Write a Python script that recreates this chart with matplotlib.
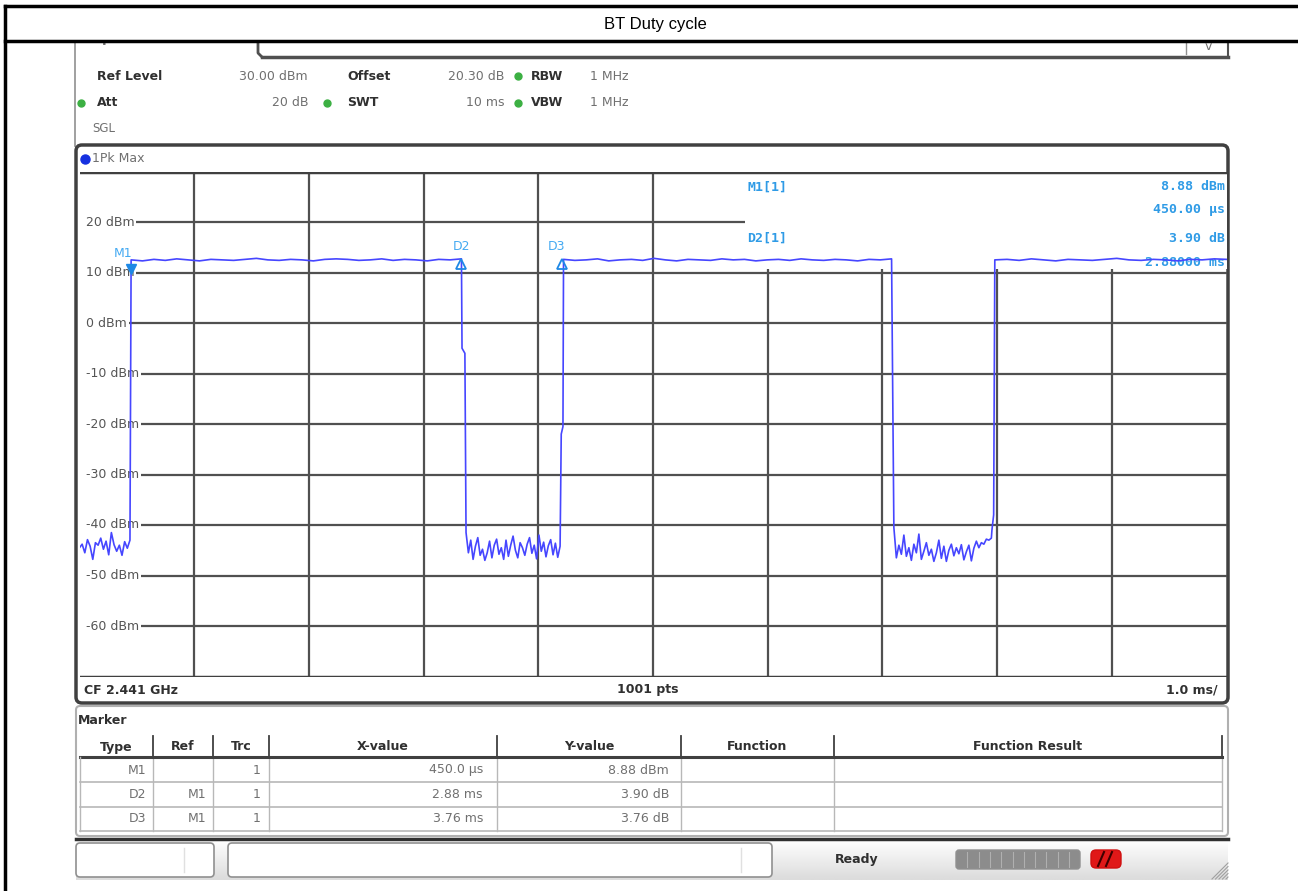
import matplotlib
matplotlib.use('Agg')
import matplotlib.pyplot as plt
from matplotlib.patches import FancyBboxPatch, Rectangle
import numpy as np

# trace: (start ms, end ms, levels in dBm)
low1_dbm = [-44.5, -43.8, -45.5, -42.9, -44.2, -46.8, -43.5, -44.0, -42.6,
            -44.8, -43.2, -45.9, -41.5, -43.9, -45.2, -44.0, -46.0, -43.3,
            -44.6, -43.0]
high1_dbm = [12.5, 12.3, 12.6, 12.4, 12.7, 12.5, 12.3, 12.6, 12.5, 12.4,
             12.6, 12.8, 12.5, 12.4, 12.6, 12.5, 12.3, 12.6, 12.7, 12.6,
             12.4, 12.5, 12.7, 12.4, 12.6, 12.5, 12.3, 12.6, 12.5, 12.7]
low2_dbm = [-41.5, -45.5, -43.0, -46.8, -44.2, -42.5, -46.0, -44.8, -47.0,
            -45.5, -43.2, -46.5, -44.0, -42.8, -45.8, -44.5, -46.8, -43.0,
            -46.2, -44.0, -42.2, -45.0, -46.5, -43.5, -44.5, -46.0, -43.8,
            -42.5, -45.6, -44.0, -46.7, -42.0, -45.2, -43.4, -46.3, -44.1,
            -42.9, -45.9, -43.6, -46.4, -44.2]
high2_dbm = [12.6, 12.4, 12.5, 12.7, 12.3, 12.5, 12.6, 12.4, 12.8, 12.5,
             12.3, 12.6, 12.5, 12.4, 12.7, 12.5, 12.6, 12.3, 12.5, 12.6,
             12.4, 12.7, 12.5, 12.4, 12.6, 12.5, 12.3, 12.6, 12.5, 12.7]
low3_dbm = [-40.5, -46.5, -44.0, -45.8, -42.0, -46.2, -44.5, -47.0, -43.8,
            -45.5, -41.8, -46.8, -45.2, -43.5, -46.0, -44.8, -47.2, -45.5,
            -43.0, -46.6, -44.2, -47.2, -45.0, -43.8, -46.1, -44.5, -45.7,
            -43.9, -46.9, -45.3, -44.0, -47.1, -44.6, -43.2, -44.5, -43.5,
            -43.8, -42.8, -43.0, -42.6]
high3_dbm = [12.5, 12.6, 12.4, 12.7, 12.5, 12.3, 12.6, 12.5, 12.4, 12.6,
             12.8, 12.5, 12.4, 12.6, 12.5, 12.3, 12.6, 12.5, 12.7, 12.6]
seg_start_ms = [0.00, 0.45, 3.37, 4.22, 7.10, 7.98]
seg_end_ms = [0.44, 3.33, 4.19, 7.08, 7.95, 10.0]
seg_dbm = [low1_dbm, high1_dbm, low2_dbm, high2_dbm, low3_dbm, high3_dbm]
# small kinks on the edges, placed after segment i
edge_ms = {1: [3.335, 3.36], 2: [4.20, 4.215], 4: [7.955, 7.97]}
edge_dbm = {1: [-5.0, -6.0], 2: [-22.0, -20.5], 4: [-41.0, -38.0]}

ytick_dbm = [20, 10, 0, -10, -20, -30, -40, -50, -60]

# marker table
mk_type = ['M1', 'D2', 'D3']
mk_ref = ['', 'M1', 'M1']
mk_trc = ['1', '1', '1']
mk_x = ['450.0 µs', '2.88 ms', '3.76 ms']
mk_y = ['8.88 dBm', '3.90 dB', '3.76 dB']
m1_ms, m1_dbm = 0.45, 8.88
d2_ms, d3_ms = 0.45 + 2.88, 0.45 + 3.76

W, H = 1298, 891
fig = plt.figure(figsize=(W / 100, H / 100), dpi=100)
bg = fig.add_axes([0, 0, 1, 1])
bg.set_xlim(0, W)
bg.set_ylim(H, 0)
bg.axis('off')

DARK = '#303030'
GREY = '#707070'
BLUE = '#2f9be6'
TRACE = '#4646ff'

def txt(x, y, s, ha='left', color=DARK, bold=False, size=9, **kw):
    bg.text(x, y, s, ha=ha, va='center', color=color, fontsize=size,
            fontweight='bold' if bold else 'normal', family='DejaVu Sans', **kw)

def rbox(x0, y0, x1, y1, ec='#404040', lw=2.0, fc='none', r=4, z=2):
    bg.add_patch(FancyBboxPatch((x0, y0), x1 - x0, y1 - y0,
                                boxstyle='round,pad=0,rounding_size=%g' % r,
                                ec=ec, fc=fc, lw=lw, zorder=z))

# document cell with title
txt(92, 38, 'Spectrum', color=GREY, bold=True, size=10, zorder=1)
bg.add_patch(Rectangle((6, 0), 1292, 41.5, fc='white', ec='none', zorder=2))
bg.plot([5, W], [6, 6], color='black', lw=2.5, zorder=3)
bg.plot([5, W], [41, 41], color='black', lw=2.5, zorder=3)
bg.plot([5, 5], [6, H], color='black', lw=2.5, zorder=3)
bg.text(655, 24, 'BT Duty cycle', ha='center', va='center', fontsize=12,
        family='Liberation Sans', zorder=3)

# screenshot header area
bg.plot([75, 75], [42, 146], color='#909090', lw=1.2)
bg.plot([258, 258, 262], [42, 53, 57], color='#505050', lw=2)
bg.plot([262, 1228], [57, 57], color='#505050', lw=2.5)
bg.plot([1228, 1228], [42, 57], color='#505050', lw=1.5)
bg.plot([1186, 1186], [42, 54], color='#909090', lw=1)
txt(1205, 47, 'v', color=GREY, size=9)

txt(97, 76, 'Ref Level', bold=True)
txt(308, 76, '30.00 dBm', ha='right', color=GREY)
txt(347, 76, 'Offset', bold=True)
txt(504, 76, '20.30 dB', ha='right', color=GREY)
txt(531, 76, 'RBW', bold=True)
txt(590, 76, '1 MHz', color=GREY)
txt(97, 103, 'Att', bold=True)
txt(308, 103, '20 dB', ha='right', color=GREY)
txt(347, 103, 'SWT', bold=True)
txt(504, 103, '10 ms', ha='right', color=GREY)
txt(531, 103, 'VBW', bold=True)
txt(590, 103, '1 MHz', color=GREY)
for (dx, dy) in [(518, 76), (81, 103), (327, 103), (518, 103)]:
    bg.plot(dx, dy, 'o', ms=5, color='#3cb043', zorder=4)
txt(92, 129, 'SGL', color=GREY, size=8.5)

# diagram frame
rbox(76, 145, 1228, 703, lw=2.5, r=6)
bg.plot(85, 159, 'o', ms=6.5, color='#1530e0', zorder=4)
txt(92, 159, '1Pk Max', color=GREY)
txt(84, 690, 'CF 2.441 GHz', bold=True)
txt(648, 690, '1001 pts', ha='center', bold=True)
txt(1218, 690, '1.0 ms/', ha='right', bold=True)

# diagram axes
gx0, gx1, gy0, gy1 = 79.5, 1226.5, 171.5, 676.5
ax = fig.add_axes([gx0 / W, 1 - gy1 / H, (gx1 - gx0) / W, (gy1 - gy0) / H])
ax.set_xlim(0, 10)
ax.set_ylim(-70, 30)
ax.axis('off')
for k in range(1, 10):
    ax.axvline(k, color='#505050', lw=1.6, zorder=1)
for v in ytick_dbm:
    ax.hlines(v, 0.06, 10, color='#505050', lw=1.6, zorder=1)
    ax.text(0.06, v, '%d dBm' % v, ha='left', va='center', fontsize=9,
            color='#555555', family='DejaVu Sans', zorder=3,
            bbox=dict(fc='white', ec='none', pad=1.0))
# marker info field
ax.add_patch(Rectangle((5.80, 10.6), 4.3, 19.2, fc='white', ec='none', zorder=2))
ax.axhline(30, color='#404040', lw=2.5, zorder=3)
ax.axhline(-70, color='#404040', lw=2.5, zorder=3)
info = [(747, 187, 'M1[1]', 'left'), (1225, 187, '8.88 dBm', 'right'),
        (1225, 210, '450.00 µs', 'right'), (747, 238, 'D2[1]', 'left'),
        (1225, 238, '3.90 dB', 'right'), (1225, 263, '2.88000 ms', 'right')]
for x, y, s, ha in info:
    ax.text(x, y, s, ha=ha, va='center', fontsize=9.5, color=BLUE,
            fontweight='bold', family='DejaVu Sans Mono', zorder=4,
            transform=bg.transData, clip_on=False)

# trace
t_all, y_all = [], []
for i in range(len(seg_dbm)):
    n = len(seg_dbm[i])
    t_all += list(np.linspace(seg_start_ms[i], seg_end_ms[i], n))
    y_all += seg_dbm[i]
    if i in edge_ms:
        t_all += edge_ms[i]
        y_all += edge_dbm[i]
ax.plot(t_all, y_all, color=TRACE, lw=1.2, zorder=5)

# markers
ax.plot(m1_ms, 10.6, marker='v', ms=7, color='#1e88e5', zorder=6)
ax.plot([d2_ms, d3_ms], [11.6, 11.6], ls='none', marker='^', ms=7,
        mfc='none', mec='#1e88e5', mew=1.3, zorder=6)
for s, t, lv in [('M1', 0.38, 13.8), ('D2', d2_ms, 15.2), ('D3', d3_ms - 0.05, 15.2)]:
    ax.text(t, lv, s, ha='center', va='center', fontsize=9, color='#45aaf2',
            family='DejaVu Sans', zorder=6)

# marker table
rbox(76, 706, 1228, 836, ec='#b0b0b0', lw=1.5, r=4)
txt(78, 720, 'Marker', bold=True)
col_div = [80, 153, 213, 269, 497, 681, 834, 1222]
heads = ['Type', 'Ref', 'Trc', 'X-value', 'Y-value', 'Function', 'Function Result']
for i, h in enumerate(heads):
    txt((col_div[i] + col_div[i + 1]) / 2, 747, h, ha='center', bold=True)
for x in col_div[1:]:
    bg.plot([x, x], [736, 757], color='#404040', lw=1.3)
    bg.plot([x, x], [757, 831], color='#b8b8b8', lw=1.0)
bg.plot([80, 1222], [757, 757], color='#404040', lw=2.2)
bg.plot([80, 80], [757, 831], color='#b8b8b8', lw=1.0)
row_y = [770, 795, 819]
for yl in [782, 807, 831]:
    bg.plot([80, 1222], [yl, yl], color='#b8b8b8', lw=1.2)
for i, y in enumerate(row_y):
    txt(146, y, mk_type[i], ha='right', color=GREY)
    txt(206, y, mk_ref[i], ha='right', color=GREY)
    txt(261, y, mk_trc[i], ha='right', color=GREY)
    txt(483, y, mk_x[i], ha='right', color=GREY)
    txt(669, y, mk_y[i], ha='right', color=GREY)

# status bar
grad = np.linspace(1.0, 0.86, 40)[:, None] * np.ones((1, 10))
bg.imshow(grad, extent=(76, 1228, 880, 839), cmap='gray', vmin=0, vmax=1,
          aspect='auto', zorder=1)
bg.plot([76, 1228], [839, 839], color='#303030', lw=2.5, zorder=2)
bg.add_patch(Rectangle((76, 880), 1160, 11, fc='white', ec='none', zorder=2))
rbox(76, 843, 214, 877, ec='#909090', lw=1.2, fc='white', r=4, z=3)
rbox(228, 843, 772, 877, ec='#909090', lw=1.2, fc='white', r=4, z=3)
bg.plot([184, 184], [848, 872], color='#e0e0e0', lw=1, zorder=4)
bg.plot([741, 741], [848, 872], color='#e0e0e0', lw=1, zorder=4)
txt(835, 859, 'Ready', bold=True, zorder=4)
rbox(956, 850, 1080, 869, ec='#909090', lw=1, fc='#8c8c8c', r=3, z=3)
for k in range(1, 11):
    bg.plot([956 + k * 11.3] * 2, [852, 867], color='#b0b0b0', lw=0.8, zorder=4)
rbox(1091, 850, 1121, 868, ec='#d01010', lw=1, fc='#e01818', r=5, z=3)
bg.plot([1098, 1104], [866, 852], color='#400000', lw=1.5, zorder=4)
bg.plot([1106, 1112], [866, 852], color='#400000', lw=1.5, zorder=4)
for k in range(5):
    bg.plot([1212 + k * 3.5, 1228], [879, 863 + k * 3.5], color='#a0a0a0',
            lw=0.8, zorder=4)

fig.savefig('out.png', dpi=100)
